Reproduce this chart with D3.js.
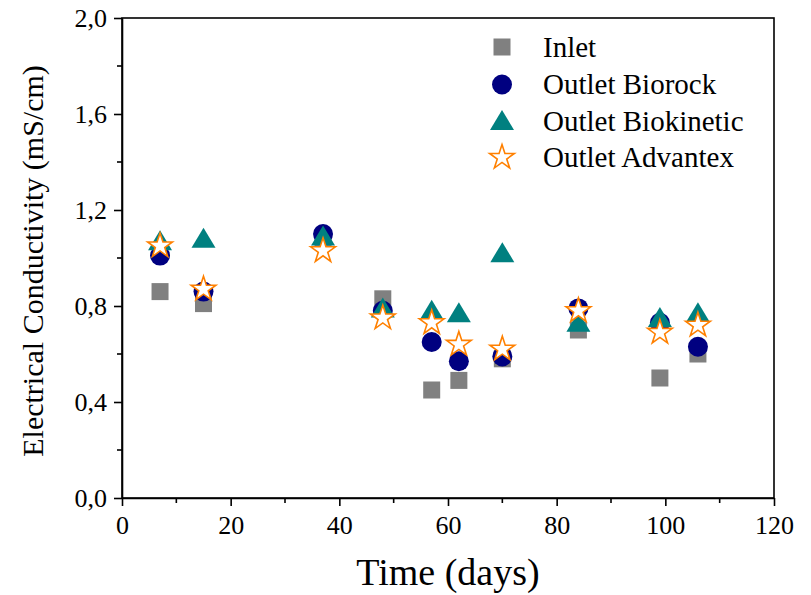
<!DOCTYPE html>
<html>
<head>
<meta charset="utf-8">
<script src="https://cdn.jsdelivr.net/npm/d3@7"></script>
<style>
  body { margin: 0; background: #fff; }
  text { font-family: "Liberation Serif", "Times New Roman", serif; fill: #000; }
</style>
</head>
<body>
<svg id="chart" width="811" height="595"></svg>
<script>
// sampling days
const days = [7, 15, 37, 48, 57, 62, 70, 84, 99, 106];

// electrical conductivity (mS/cm)
const inlet      = [0.86, 0.81, 1.07, 0.83, 0.45, 0.49, 0.58, 0.70, 0.50, 0.60];
const biorock    = [1.01, 0.86, 1.10, 0.78, 0.65, 0.57, 0.59, 0.79, 0.73, 0.63];
const biokinetic = [1.07, 1.08, 1.09, 0.79, 0.78, 0.77, 1.02, 0.73, 0.75, 0.77];
const advantex   = [1.05, 0.87, 1.03, 0.75, 0.73, 0.64, 0.62, 0.78, 0.69, 0.72];

const seriesNames = ["Inlet", "Outlet Biorock", "Outlet Biokinetic", "Outlet Advantex"];
const xTicks = [0, 20, 40, 60, 80, 100, 120];
const yTicks = [0, 0.4, 0.8, 1.2, 1.6, 2.0];

const margin = { left: 122, top: 18, right: 37, bottom: 97 };
const W = 811, H = 595;
const svg = d3.select("#chart");

const x = d3.scaleLinear().domain([0, 120]).range([margin.left, W - margin.right]);
const y = d3.scaleLinear().domain([0, 2]).range([H - margin.bottom, margin.top]);

const fmt = v => d3.format(".1f")(v).replace(".", ",");

// frame (top + right, no ticks)
svg.append("rect")
  .attr("x", x(0)).attr("y", y(2))
  .attr("width", x(120) - x(0)).attr("height", y(0) - y(2))
  .attr("fill", "none").attr("stroke", "#000").attr("stroke-width", 1.6);

// x axis
const xAxis = svg.append("g")
  .attr("transform", `translate(0,${y(0)})`)
  .call(d3.axisBottom(x).tickValues(xTicks).tickSize(8).tickSizeOuter(0).tickPadding(10));
xAxis.append("g").selectAll("line")
  .data(d3.range(10, 120, 20)).join("line")
  .attr("x1", d => x(d)).attr("x2", d => x(d))
  .attr("y1", 0).attr("y2", 5)
  .attr("stroke", "#000").attr("stroke-width", 1.6);

// y axis
const yAxis = svg.append("g")
  .attr("transform", `translate(${x(0)},0)`)
  .call(d3.axisLeft(y).tickValues(yTicks).tickFormat(fmt).tickSize(8).tickSizeOuter(0).tickPadding(7));
yAxis.append("g").selectAll("line")
  .data([0.2, 0.6, 1.0, 1.4, 1.8]).join("line")
  .attr("x1", 0).attr("x2", -5)
  .attr("y1", d => y(d)).attr("y2", d => y(d))
  .attr("stroke", "#000").attr("stroke-width", 1.6);

[xAxis, yAxis].forEach(a => {
  a.selectAll(".domain").attr("stroke-width", 1.6);
  a.selectAll(".tick line").attr("stroke-width", 1.6);
  a.selectAll("text").attr("font-size", 26);
});
yAxis.selectAll(".tick text").attr("dy", "0.34em");

// axis titles
svg.append("text")
  .attr("x", (x(0) + x(120)) / 2).attr("y", 585)
  .attr("text-anchor", "middle").attr("font-size", 38)
  .text("Time (days)");

svg.append("text")
  .attr("transform", `translate(43,${(y(0) + y(2)) / 2 + 3}) rotate(-90)`)
  .attr("text-anchor", "middle").attr("font-size", 30)
  .text("Electrical Conductivity (mS/cm)");

// symbols
const starPath = d3.symbol().type(d3.symbolStar).size(190)();
const triPath = "M0,-11 L12,9 L-12,9 Z";

function drawSymbol(g, k) {
  if (k === 0) {
    g.append("rect").attr("x", -8.5).attr("y", -8.5).attr("width", 17).attr("height", 17)
      .attr("fill", "#808080");
  } else if (k === 1) {
    g.append("circle").attr("r", 10).attr("fill", "#000080");
  } else if (k === 2) {
    g.append("path").attr("d", triPath).attr("fill", "#008080");
  } else {
    g.append("path").attr("d", starPath).attr("fill", "#fff")
      .attr("stroke", "#ff8000").attr("stroke-width", 1.6);
  }
}

const series = [inlet, biorock, biokinetic, advantex];
series.forEach((vals, k) => {
  const layer = svg.append("g");
  days.forEach((d, i) => {
    const g = layer.append("g").attr("transform", `translate(${x(d)},${y(vals[i])})`);
    drawSymbol(g, k);
  });
});

// legend
const legendY = [47, 84.5, 121, 157.5];
seriesNames.forEach((name, k) => {
  const g = svg.append("g").attr("transform", `translate(502,${legendY[k]})`);
  drawSymbol(g, k);
  svg.append("text")
    .attr("x", 543).attr("y", legendY[k] + 9.5)
    .attr("font-size", 29)
    .text(name);
});
</script>
</body>
</html>
